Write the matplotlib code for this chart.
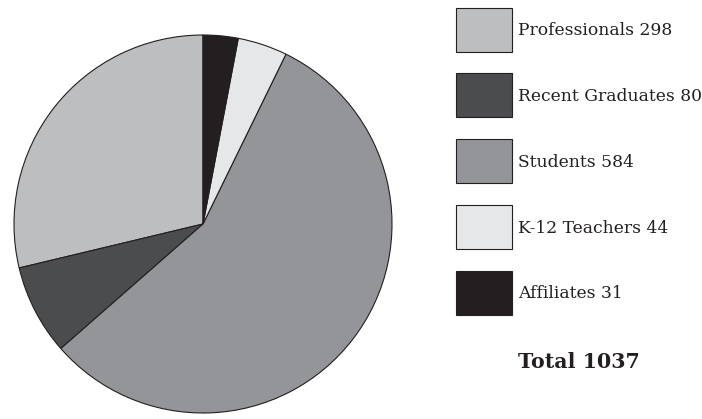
import matplotlib.pyplot as plt
from matplotlib.patches import Rectangle

categories = ['Professionals', 'Recent Graduates', 'Students', 'K-12 Teachers', 'Affiliates']
counts = [298, 80, 584, 44, 31]
colors = ['#bcbec0', '#4b4c4e', '#939598', '#e6e7e8', '#231f20']

plt.rcParams['font.family'] = ['DejaVu Serif']

W, H = 702, 419
fig = plt.figure(figsize=(W / 100, H / 100), dpi=100)

# pie centre ~(203, 224) px, radius ~189 px
cx, cy, r = 203, 224, 189
ax = fig.add_axes([(cx - r) / W, (H - cy - r) / H, 2 * r / W, 2 * r / H])
wedges, _ = ax.pie(counts, colors=colors, startangle=90, counterclock=True,
                   wedgeprops=dict(edgecolor='#231f20', linewidth=0.8))
for w in wedges:
    w.set_clip_on(False)
ax.set_xlim(-1, 1)
ax.set_ylim(-1, 1)
ax.set_aspect('equal')

# legend drawn by hand: boxes 56x44 px, rows every ~65.8 px
box_x, box_w, box_h = 456, 56, 44
top0, step = 7.7, 65.8
for i, (name, val, c) in enumerate(zip(categories, counts, colors)):
    top = top0 + i * step
    fig.patches.append(Rectangle((box_x / W, 1 - (top + box_h) / H), box_w / W, box_h / H,
                                 transform=fig.transFigure, facecolor=c,
                                 edgecolor='#231f20', linewidth=0.8))
    fig.text(518 / W, 1 - (top + box_h / 2 + 1) / H, f'{name} {val}', fontsize=12.3,
             va='center', ha='left', color='#231f20')

fig.text(518 / W, 1 - 362 / H, f'Total {sum(counts)}', fontsize=14.8, fontweight='bold',
         va='center', ha='left', color='#231f20')

fig.savefig('out.png', dpi=100)
